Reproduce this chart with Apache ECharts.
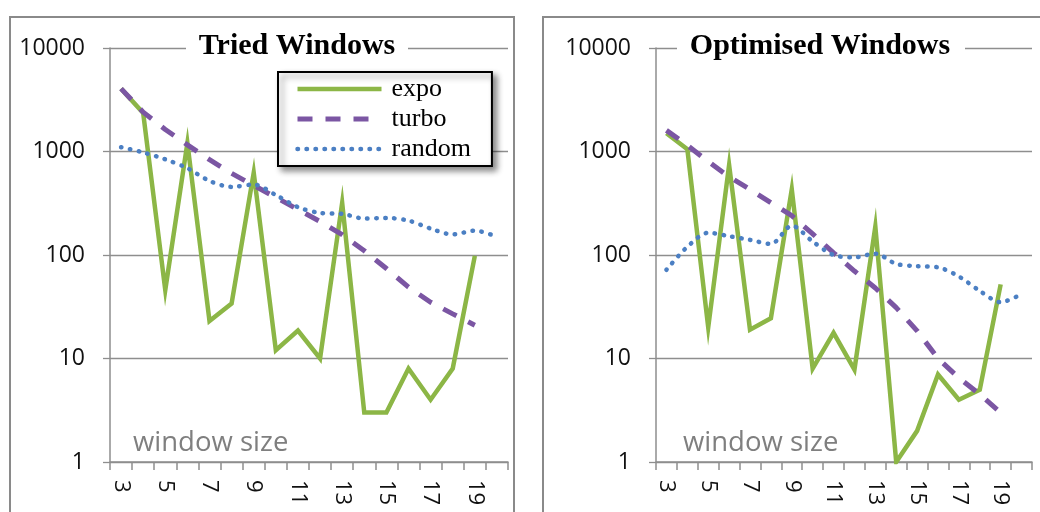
<!DOCTYPE html>
<html>
<head>
<meta charset="utf-8">
<script src="https://cdn.jsdelivr.net/npm/echarts@6/dist/echarts.min.js"></script>
<style>
html,body{margin:0;padding:0;background:#fff;}
#c{width:1040px;height:512px;}
</style>
</head>
<body>
<div id="c"></div>
<script>
const categories = ['3','4','5','6','7','8','9','10','11','12','13','14','15','16','17','18','19','20'];
const seriesNames = ['expo','turbo','random'];
const panelTitles = ['Tried Windows','Optimised Windows'];
const axisNote = 'window size';

const triedExpo   = [4050, 2350, 46, 1210, 23, 34, 624, 12, 18.6, 10, 320, 3, 3, 8, 4, 8, 98, null];
const triedTurbo  = [4050, 2400, 1630, 1160, 835, 615, 470, 360, 275, 211, 157, 110, 74, 49, 35, 27, 21, null];
const triedRandom = [1100, 980, 840, 690, 520, 455, 480, 380, 290, 255, 250, 225, 228, 215, 180, 158, 172, 150];

const optExpo   = [1500, 1050, 20, 740, 19, 24.5, 431, 8, 17.7, 7.8, 188, 1, 2, 7, 4, 5, 52, null];
const optTurbo  = [1600, 1150, 800, 570, 430, 320, 240, 160, 105, 70, 48, 31, 18.5, 10, 6.5, 4.5, 3, null];
const optRandom = [72, 120, 164, 152, 140, 128, 192, 135, 100, 95, 103, 82, 78, 76, 62, 45, 35, 42];

const GREEN = '#8cb646', PURPLE = '#7b56a3', BLUE = '#4b7fc3';
const GRID_GRAY = '#8e8e8e';

const lineStyles = {
  expo:   {color:GREEN, width:4.5, join:'miter'},
  turbo:  {color:PURPLE, width:5, type:[15,13], cap:'butt'},
  random: {color:BLUE, width:4.5, type:[0.5,8.5], cap:'round'}
};

function xAxisCfg(i){
  return {
    type:'category', gridIndex:i, data:categories, boundaryGap:true,
    axisLine:{show:true, lineStyle:{color:GRID_GRAY, width:1.5}},
    axisTick:{show:true, interval:0, length:8, lineStyle:{color:GRID_GRAY, width:1.5}},
    axisLabel:{interval:1, rotate:-90, margin:18, color:'#111', fontFamily:'Open Sans', fontSize:22}
  };
}
function yAxisCfg(i){
  return {
    type:'log', logBase:10, gridIndex:i, min:1, max:10000,
    axisLine:{show:true, lineStyle:{color:GRID_GRAY, width:1.5}},
    axisTick:{show:true, length:7, lineStyle:{color:GRID_GRAY, width:1.3}},
    splitLine:{show:true, lineStyle:{color:GRID_GRAY, width:1.3}},
    minorTick:{show:false}, minorSplitLine:{show:false},
    axisLabel:{margin:25, color:'#111', fontFamily:'Open Sans', fontSize:23,
      formatter:v => String(Math.round(v))}
  };
}
function mkSeries(name, data, idx){
  const base = {name, type:'line', data, xAxisIndex:idx, yAxisIndex:idx, symbol:'none', showSymbol:false, connectNulls:false, animation:false};
  base.lineStyle = Object.assign({}, lineStyles[name]);
  if(name==='random') base.smooth = 0.3;
  base.itemStyle = {color: lineStyles[name].color};
  return base;
}

const chart = echarts.init(document.getElementById('c'), null, {renderer:'canvas'});
chart.setOption({
  animation:false,
  backgroundColor:'#fff',
  grid:[
    {left:110, top:48, width:398, height:414},
    {left:656, top:48, width:376, height:414}
  ],
  xAxis:[xAxisCfg(0), xAxisCfg(1)],
  yAxis:[yAxisCfg(0), yAxisCfg(1)],
  legend:{
    data:seriesNames.map(n => ({name:n, itemStyle:{opacity:0, borderWidth:0}, lineStyle:Object.assign({}, lineStyles[n])})),
    orient:'vertical', left:278, top:72,
    itemWidth:84, itemHeight:14, itemGap:4,
    padding:[4,21,4,17],
    backgroundColor:'#fff', borderColor:'#000', borderWidth:2,
    shadowBlur:6, shadowColor:'rgba(0,0,0,0.45)', shadowOffsetX:4, shadowOffsetY:4,
    textStyle:{fontFamily:'Liberation Serif', fontSize:26, color:'#000', lineHeight:26, padding:[0,0,0,5]}
  },
  graphic:[
    {type:'rect', z:0, shape:{x:10, y:17, width:504, height:520}, style:{fill:'none', stroke:'#8a8a8a', lineWidth:2}},
    {type:'rect', z:0, shape:{x:543, y:17, width:520, height:520}, style:{fill:'none', stroke:'#8a8a8a', lineWidth:2}},
    {type:'rect', z:100, shape:{x:186, y:36, width:222, height:22}, style:{fill:'#fff'}},
    {type:'rect', z:100, shape:{x:677, y:36, width:288, height:22}, style:{fill:'#fff'}},
    {type:'text', z:101, x:297, y:46, style:{text:panelTitles[0], font:'bold 30px "Liberation Serif"', fill:'#000', textAlign:'center', textVerticalAlign:'middle', align:'center', verticalAlign:'middle'}},
    {type:'text', z:101, x:820, y:46, style:{text:panelTitles[1], font:'bold 30px "Liberation Serif"', fill:'#000', textAlign:'center', textVerticalAlign:'middle', align:'center', verticalAlign:'middle'}},
    {type:'text', z:50, x:133, y:443, style:{text:axisNote, font:'27.5px "Open Sans"', fill:'#7f7f7f', textVerticalAlign:'middle', verticalAlign:'middle'}},
    {type:'text', z:50, x:683, y:443, style:{text:axisNote, font:'27.5px "Open Sans"', fill:'#7f7f7f', textVerticalAlign:'middle', verticalAlign:'middle'}}
  ],
  series:[
    mkSeries('expo', triedExpo, 0),
    mkSeries('turbo', triedTurbo, 0),
    mkSeries('random', triedRandom, 0),
    mkSeries('expo', optExpo, 1),
    mkSeries('turbo', optTurbo, 1),
    mkSeries('random', optRandom, 1)
  ]
});
</script>
</body>
</html>
